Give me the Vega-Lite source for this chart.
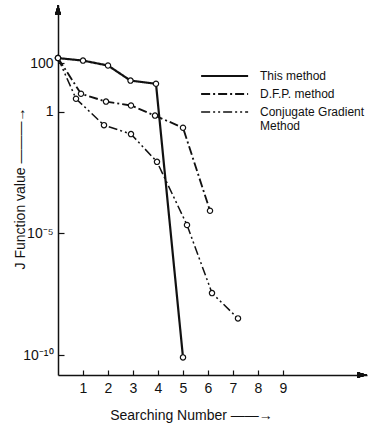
{
  "$schema": "https://vega.github.io/schema/vega-lite/v6.json",
  "width": 309,
  "height": 370,
  "autosize": {"type": "none"},
  "padding": {"left": 58, "top": 5, "right": 9, "bottom": 50},
  "background": "white",
  "config": {
    "view": {"stroke": null},
    "font": "Liberation Sans Narrow, Liberation Sans, sans-serif",
    "legend": {
      "orient": "none",
      "legendX": 142,
      "legendY": 64,
      "title": null,
      "symbolType": "M-1,0H7",
      "symbolSize": 138,
      "symbolStrokeColor": "#111",
      "symbolFillColor": "transparent",
      "labelFontSize": 12,
      "labelColor": "#111",
      "labelOffset": 46,
      "labelBaseline": "alphabetic",
      "rowPadding": 5,
      "labelLimit": 300
    }
  },
  "datasets": {
    "series": [
      {"n": 0, "J": 160, "method": "This method"},
      {"n": 1, "J": 126, "method": "This method"},
      {"n": 2, "J": 79, "method": "This method"},
      {"n": 2.9, "J": 19, "method": "This method"},
      {"n": 3.92, "J": 14, "method": "This method"},
      {"n": 5.0, "J": 8e-11, "method": "This method"},
      {"n": 0, "J": 160, "method": "D.F.P. method"},
      {"n": 0.92, "J": 5.5, "method": "D.F.P. method"},
      {"n": 1.92, "J": 2.6, "method": "D.F.P. method"},
      {"n": 2.92, "J": 1.8, "method": "D.F.P. method"},
      {"n": 3.88, "J": 0.69, "method": "D.F.P. method"},
      {"n": 5.0, "J": 0.22, "method": "D.F.P. method"},
      {"n": 6.08, "J": 8.5e-5, "method": "D.F.P. method"},
      {"n": 0, "J": 160, "method": "Conjugate Gradient Method"},
      {"n": 0.72, "J": 3.4, "method": "Conjugate Gradient Method"},
      {"n": 1.84, "J": 0.28, "method": "Conjugate Gradient Method"},
      {"n": 2.92, "J": 0.12, "method": "Conjugate Gradient Method"},
      {"n": 3.96, "J": 0.0087, "method": "Conjugate Gradient Method"},
      {"n": 5.16, "J": 2.2e-5, "method": "Conjugate Gradient Method"},
      {"n": 6.16, "J": 3.5e-8, "method": "Conjugate Gradient Method"},
      {"n": 7.2, "J": 3.2e-9, "method": "Conjugate Gradient Method"}
    ]
  },
  "data": {"name": "series"},
  "encoding": {
    "x": {
      "field": "n",
      "type": "quantitative",
      "scale": {"domain": [0, 12.36], "nice": false, "zero": false},
      "axis": {
        "values": [1, 2, 3, 4, 5, 6, 7, 8, 9],
        "grid": false,
        "tickSize": -5,
        "tickColor": "#111",
        "tickWidth": 1.2,
        "domainColor": "#111",
        "domainWidth": 1.5,
        "labelFontSize": 14,
        "labelColor": "#111",
        "labelPadding": 11,
        "labelFlush": false,
        "title": "Searching  Number ——→",
        "titleFontSize": 14,
        "titleFontWeight": "normal",
        "titleColor": "#111",
        "titleX": 133,
        "titleY": 40,
        "titleBaseline": "middle",
        "titleAnchor": null
      }
    },
    "y": {
      "field": "J",
      "type": "quantitative",
      "scale": {"type": "log", "domain": [1.51e-11, 24270], "nice": false},
      "axis": {
        "values": [100, 1, 0.00001, 1e-10],
        "labelExpr": "datum.value > 50 ? '100' : datum.value > 0.5 ? '1' : datum.value > 1e-7 ? '10⁻⁵' : '10⁻¹⁰'",
        "grid": false,
        "tickSize": -6,
        "tickColor": "#111",
        "tickWidth": 1.2,
        "domainColor": "#111",
        "domainWidth": 1.5,
        "labelFontSize": 14,
        "labelColor": "#111",
        "labelPadding": 11,
        "labelFlush": false,
        "title": "J Function value   ———→",
        "titleFontSize": 14,
        "titleFontWeight": "normal",
        "titleColor": "#111",
        "titleX": -38,
        "titleY": 183,
        "titleAngle": -90,
        "titleBaseline": "middle",
        "titleAnchor": null
      }
    }
  },
  "layer": [
    {
      "mark": {"type": "line", "color": "#111"},
      "encoding": {
        "strokeDash": {
          "field": "method",
          "type": "nominal",
          "scale": {
            "domain": ["This method", "D.F.P. method", "Conjugate Gradient Method"],
            "range": [[1, 0], [9, 3, 2, 3], [9, 3, 2, 3, 2, 3]]
          },
          "legend": {
            "labelExpr": "datum.label == 'Conjugate Gradient Method' ? ['Conjugate Gradient', 'Method'] : datum.label",
            "encode": {"labels": {"update": {"dy": {"value": 4}}}}
          }
        },
        "strokeWidth": {
          "field": "method",
          "type": "nominal",
          "scale": {
            "domain": ["This method", "D.F.P. method", "Conjugate Gradient Method"],
            "range": [2.2, 1.5, 1.5]
          },
          "legend": {
            "labelExpr": "datum.label == 'Conjugate Gradient Method' ? ['Conjugate Gradient', 'Method'] : datum.label",
            "encode": {"labels": {"update": {"dy": {"value": 4}}}}
          }
        }
      }
    },
    {
      "mark": {"type": "point", "shape": "circle", "filled": true, "fill": "white", "stroke": "#111", "strokeWidth": 1.2, "size": 28, "opacity": 1}
    },
    {
      "mark": {"type": "point", "shape": "M0,0L-0.3,1L0.3,1Z", "filled": true, "fill": "#111", "size": 400, "opacity": 1},
      "encoding": {"x": {"datum": 0}, "y": {"datum": 24270}}
    },
    {
      "mark": {"type": "point", "shape": "M0,0L-1,-0.3L-1,0.3Z", "filled": true, "fill": "#111", "size": 400, "opacity": 1},
      "encoding": {"x": {"datum": 12.36}, "y": {"datum": 1.51e-11}}
    }
  ]
}
